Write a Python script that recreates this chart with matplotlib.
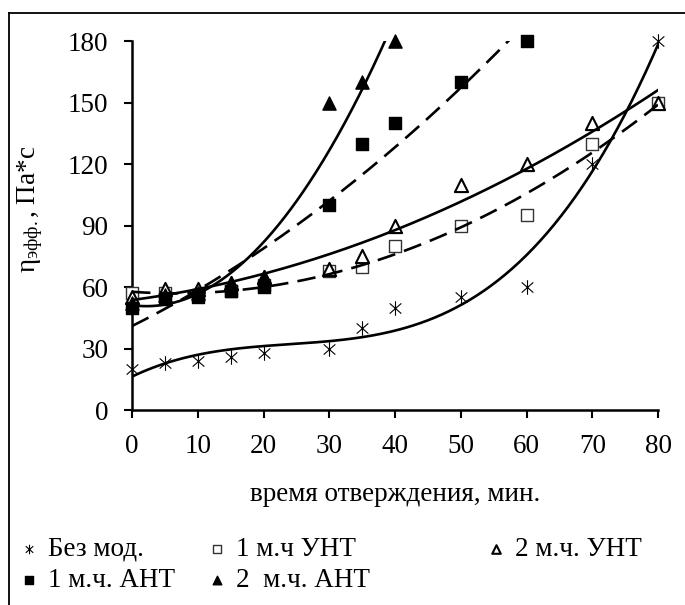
import numpy as np
import matplotlib
matplotlib.use("Agg")
import matplotlib.pyplot as plt
from matplotlib.lines import Line2D
from matplotlib.path import Path

plt.rcParams['font.family'] = ['Liberation Serif', 'DejaVu Serif']
plt.rcParams['mathtext.fontset'] = 'custom'
plt.rcParams['mathtext.rm'] = 'Liberation Serif'
plt.rcParams['mathtext.it'] = 'Liberation Serif:italic'

# время отверждения, мин.
x_none = [0, 5, 10, 15, 20, 30, 35, 40, 50, 60, 70, 80]
y_none = [20, 23, 24, 26, 28, 30, 40, 50, 55, 60, 120, 180]

x_unt1 = [0, 5, 10, 15, 20, 30, 35, 40, 50, 60, 70, 80]
y_unt1 = [57, 57, 56, 58, 61, 68, 70, 80, 90, 95, 130, 150]

x_unt2 = [0, 5, 10, 15, 20, 30, 35, 40, 50, 60, 70, 80]
y_unt2 = [55, 59, 59, 62, 65, 69, 75, 90, 110, 120, 140, 150]

x_ant1 = [0, 5, 10, 15, 20, 30, 35, 40, 50, 60]
y_ant1 = [50, 54, 55, 58, 60, 100, 130, 140, 160, 180]

x_ant2 = [0, 5, 10, 15, 20, 30, 35, 40]
y_ant2 = [52, 56, 57, 62, 65, 150, 160, 180]

labels = ['Без мод.', '1 м.ч УНТ', '2 м.ч. УНТ', '1 м.ч. АНТ', '2  м.ч. АНТ']
x_ticks = [0, 10, 20, 30, 40, 50, 60, 70, 80]
y_ticks = [0, 30, 60, 90, 120, 150, 180]

# Excel-like asterisk: a cross plus a vertical bar
star = Path([(0, -1), (0, 1), (-0.8, -0.7), (0.8, 0.7), (-0.8, 0.7), (0.8, -0.7)],
            [Path.MOVETO, Path.LINETO, Path.MOVETO, Path.LINETO, Path.MOVETO, Path.LINETO])

fig = plt.figure(figsize=(6.85, 6.05), dpi=100)
ax = fig.add_axes([0.1927, 0.3223, 0.7679, 0.6099])

# outer frame (right and bottom edges are cut off in the original)
fig.add_artist(Line2D([0.013, 0.013], [0, 0.9785], color='black', lw=1.3))
fig.add_artist(Line2D([0.013, 1.0], [0.9785, 0.9785], color='black', lw=1.3))

dash = (0, (7, 3.5))
# polynomial trend lines, degree per series
series = [
    (x_none, y_none, dict(marker=star, s=110, c='black', linewidths=0.8), 3, '-'),
    (x_unt1, y_unt1, dict(marker='s', s=75, facecolors='white', edgecolors='#333333', linewidths=1.0), 2, dash),
    (x_unt2, y_unt2, dict(marker='^', s=90, facecolors='white', edgecolors='black', linewidths=1.5), 2, '-'),
    (x_ant1, y_ant1, dict(marker='s', s=75, c='black'), 2, dash),
    (x_ant2, y_ant2, dict(marker='^', s=90, c='black'), 2, '-'),
]

handles = []
for (xs, ys, style, deg, ls), lab in zip(series, labels):
    h = ax.scatter(xs, ys, clip_on=False, zorder=3, label=lab, **style)
    handles.append(h)
    coef = np.polyfit(xs, ys, deg)
    xx = np.linspace(min(xs), max(xs), 300)
    ax.plot(xx, np.polyval(coef, xx), color='black', lw=1.9, ls=ls, zorder=4)

ax.set_xlim(0, 80)
ax.set_ylim(0, 180)
ax.set_xticks(x_ticks)
ax.set_yticks(y_ticks)
for side in ['top', 'right']:
    ax.spines[side].set_visible(False)
for side in ['left', 'bottom']:
    ax.spines[side].set_linewidth(1.8)
ax.tick_params(axis='both', direction='out', length=6, width=1.5, labelsize=19.5)
ax.tick_params(axis='y', pad=11)
ax.tick_params(axis='x', pad=11)

ax.set_xlabel('время отверждения, мин.', fontsize=19.5, labelpad=17)
ax.set_ylabel(r'$\mathrm{\eta_{эфф.}}$, Па*с', fontsize=19.5)
ax.yaxis.set_label_coords(-0.165, 0.545)

leg_kw = dict(frameon=False, fontsize=19.5, handlelength=0.6, handletextpad=0.4,
              labelspacing=0.25, markerscale=0.65, borderpad=0, borderaxespad=0)
leg1 = fig.legend([handles[0], handles[3]], [labels[0], labels[3]], loc='upper left',
                  bbox_to_anchor=(0.03, 0.113), **leg_kw)
leg2 = fig.legend([handles[1], handles[4]], [labels[1], labels[4]], loc='upper left',
                  bbox_to_anchor=(0.305, 0.113), **leg_kw)
leg3 = fig.legend([handles[2]], [labels[2]], loc='upper left',
                  bbox_to_anchor=(0.712, 0.113), **leg_kw)

fig.savefig('out.png', dpi=100)
